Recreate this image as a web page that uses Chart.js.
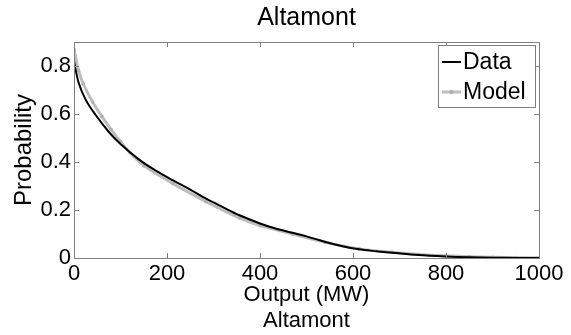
<!DOCTYPE html>
<html>
<head>
<meta charset="utf-8">
<script src="https://cdn.jsdelivr.net/npm/chart.js@4.4.0/dist/chart.umd.min.js"></script>
<style>
    html, body { margin: 0; padding: 0; background: #ffffff; }
    #contenedor { width: 571px; height: 335px; }
</style>
</head>
<body>
<div id="contenedor"><canvas id="graficoAltamont"></canvas></div>
<script>

const dataMW = [0, 10, 25, 45, 75, 100, 140, 175, 213, 250, 284, 320, 356, 400, 430, 470, 500, 541, 575, 613, 650, 684, 741, 800, 850, 900, 950, 1000];
const dataProb = [0.82, 0.73, 0.66, 0.60, 0.525, 0.475, 0.41, 0.365, 0.323, 0.285, 0.247, 0.212, 0.178, 0.144, 0.125, 0.105, 0.09, 0.067, 0.05, 0.036, 0.028, 0.022, 0.012, 0.006, 0.003, 0.0015, 0.0005, 0];

const modelMW = [0, 10, 20, 40, 60, 80, 100, 120, 150, 213, 284, 356, 400, 470, 541, 613, 684, 741, 800, 850, 900, 950, 1000];
const modelProb = [0.87, 0.78, 0.725, 0.65, 0.59, 0.535, 0.485, 0.44, 0.385, 0.31, 0.235, 0.167, 0.135, 0.10, 0.065, 0.038, 0.024, 0.015, 0.009, 0.005, 0.003, 0.002, 0.001];

const xTickStep = 200;
const yTickStep = 0.2;

const fuente = "'Liberation Sans', Arial, sans-serif";

// marco gris con marcas hacia adentro en los cuatro lados
const marcoEjes = {
    id: "marcoEjes",
    afterDatasetsDraw(chart) {
        const { ctx, chartArea: a, scales } = chart;
        const largo = 5;
        ctx.save();
        ctx.strokeStyle = "#7f7f7f";
        ctx.lineWidth = 1;
        ctx.strokeRect(Math.round(a.left) + 0.5, Math.round(a.top) + 0.5, Math.round(a.width), Math.round(a.height));
        ctx.beginPath();
        scales.x.ticks.forEach(t => {
            const px = Math.round(scales.x.getPixelForValue(t.value)) + 0.5;
            ctx.moveTo(px, a.bottom); ctx.lineTo(px, a.bottom - largo);
            ctx.moveTo(px, a.top); ctx.lineTo(px, a.top + largo);
        });
        scales.y.ticks.forEach(t => {
            const py = Math.round(scales.y.getPixelForValue(t.value)) + 0.5;
            ctx.moveTo(a.left, py); ctx.lineTo(a.left + largo, py);
            ctx.moveTo(a.right, py); ctx.lineTo(a.right - largo, py);
        });
        ctx.stroke();
        ctx.restore();
    }
};

// leyenda con caja, arriba a la derecha
const leyendaCaja = {
    id: "leyendaCaja",
    afterDraw(chart) {
        const { ctx, chartArea: a } = chart;
        const w = 97, h = 62;
        const x0 = Math.round(a.right) - 101;
        const y0 = Math.round(a.top) + 3;
        ctx.save();
        ctx.fillStyle = "#ffffff";
        ctx.fillRect(x0, y0, w, h);
        ctx.strokeStyle = "#7f7f7f";
        ctx.lineWidth = 1;
        ctx.strokeRect(x0 + 0.5, y0 + 0.5, w, h);
        ctx.font = "23px " + fuente;
        ctx.textBaseline = "middle";
        chart.data.datasets.forEach((ds, i) => {
            const y = y0 + 17 + i * 30;
            ctx.strokeStyle = ds.borderColor;
            ctx.lineWidth = ds.borderWidth;
            ctx.beginPath();
            ctx.moveTo(x0 + 4, y);
            ctx.lineTo(x0 + 23, y);
            ctx.stroke();
            if (ds.pointRadius > 0) {
                ctx.fillStyle = ds.pointBackgroundColor;
                ctx.beginPath();
                ctx.arc(x0 + 13.5, y, ds.pointRadius + 0.5, 0, Math.PI * 2);
                ctx.fill();
            }
            ctx.fillStyle = "#000000";
            ctx.fillText(ds.label, x0 + 25, y + 1);
        });
        ctx.restore();
    }
};

new Chart(document.getElementById("graficoAltamont"), {
    type: "line",
    data: {
        datasets: [{
            label: "Data",
            data: dataMW.map((x, i) => ({ x: x, y: dataProb[i] })),
            borderColor: "#000000",
            borderWidth: 2,
            pointRadius: 0,
            tension: 0.35
        }, {
            label: "Model",
            data: modelMW.map((x, i) => ({ x: x, y: modelProb[i] })),
            borderColor: "#bdbdbd",
            borderWidth: 3,
            pointRadius: 1.8,
            pointBorderWidth: 0,
            pointBackgroundColor: "#b0b0b0",
            tension: 0.35
        }]
    },
    options: {
        responsive: true,
        maintainAspectRatio: false,
        animation: false,
        layout: { padding: { top: 0, right: 32, bottom: 0, left: 0 } },
        plugins: {
            legend: { display: false },
            tooltip: { enabled: false },
            title: {
                display: true,
                text: "Altamont",
                fullSize: false,
                color: "#000000",
                font: { family: fuente, size: 25, weight: "normal" },
                padding: { top: 3, bottom: 9 }
            }
        },
        scales: {
            x: {
                type: "linear",
                min: 0,
                max: 1000,
                ticks: {
                    stepSize: xTickStep, color: "#000000", padding: 3, maxRotation: 0,
                    font: { family: fuente, size: 22 },
                    callback: v => String(v)
                },
                grid: { display: false, drawTicks: false },
                border: { display: false },
                title: {
                    display: true,
                    text: ["Output (MW)", "Altamont"],
                    color: "#000000",
                    font: { family: fuente, size: 22, lineHeight: "26px" },
                    padding: { top: 0, bottom: 1 }
                },
                afterFit(scale) { scale.height = 77; }
            },
            y: {
                min: 0,
                max: 0.9,
                ticks: {
                    stepSize: yTickStep, includeBounds: false, color: "#000000", padding: 3,
                    font: { family: fuente, size: 22 },
                    callback: v => String(v)
                },
                grid: { display: false, drawTicks: false },
                border: { display: false },
                title: {
                    display: true,
                    text: "Probability",
                    color: "#000000",
                    font: { family: fuente, size: 24 },
                    padding: { top: 10, bottom: 0 }
                },
                afterFit(scale) { scale.width = 74; }
            }
        }
    },
    plugins: [marcoEjes, leyendaCaja]
});
</script>
</body>
</html>
